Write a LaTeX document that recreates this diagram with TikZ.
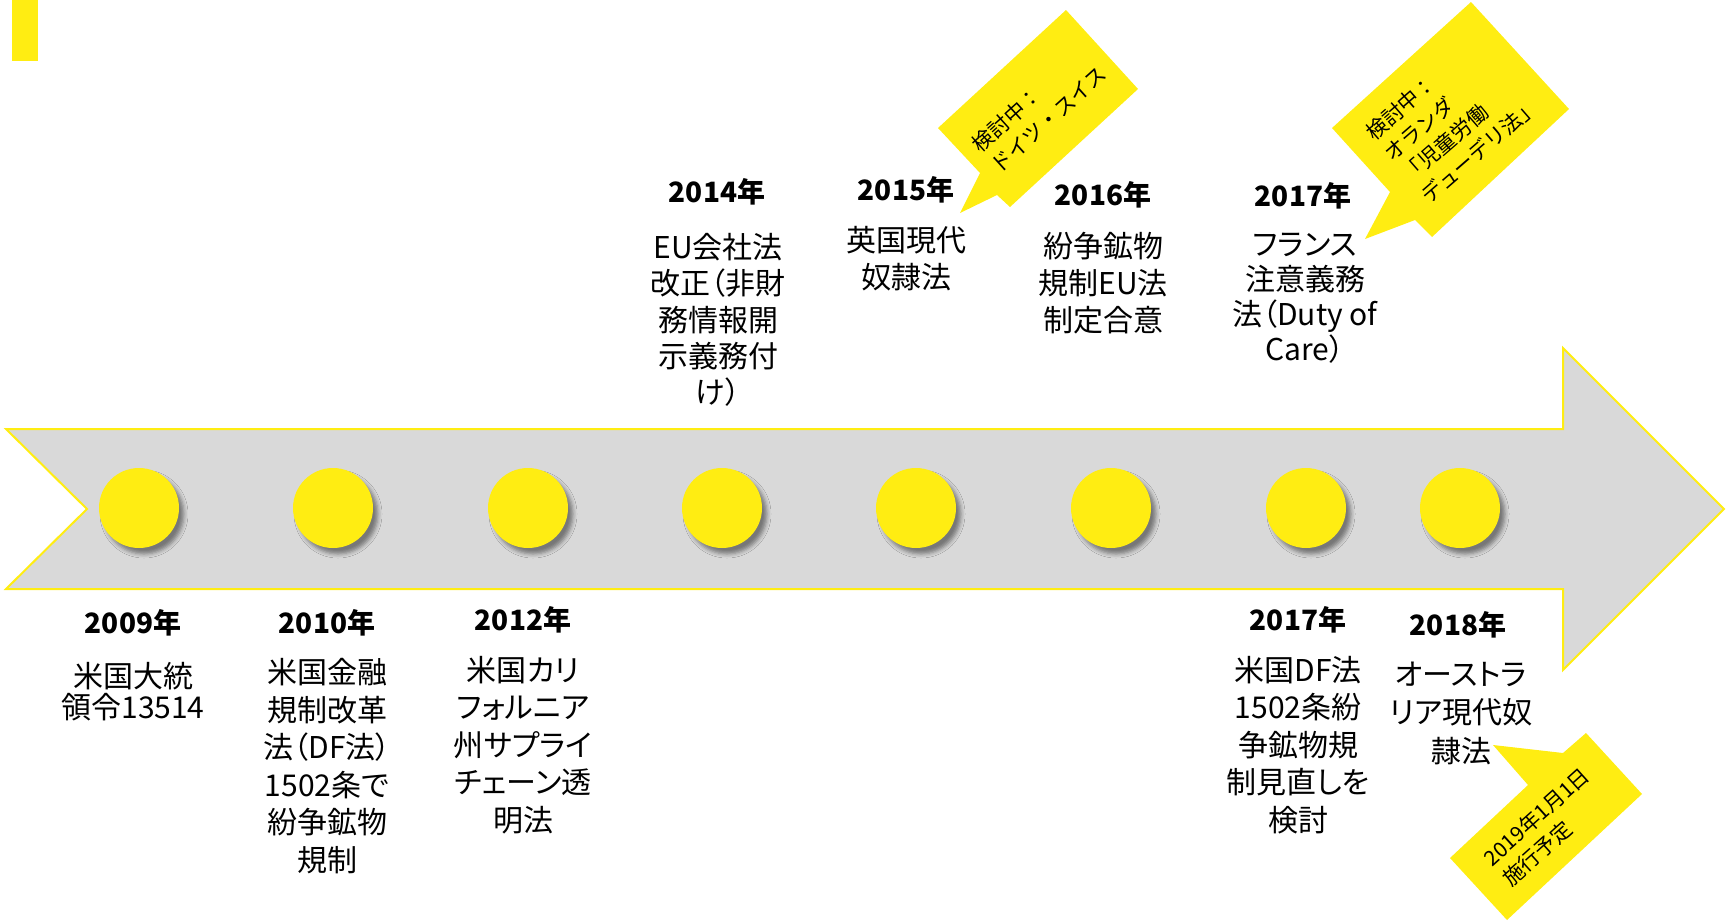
\documentclass[tikz,border=0pt]{standalone}
\usepackage{fontspec}
\setmainfont{Noto Sans CJK JP}[CharacterWidth=AlternateProportional]
\newfontfamily\cjkfull{Noto Sans CJK JP}
\usetikzlibrary{shadows.blur}
\definecolor{ylw}{RGB}{255,237,18}
\definecolor{band}{RGB}{217,217,217}
\tikzset{
  dot/.style={circle,fill=ylw,minimum size=80pt,inner sep=0pt,
    blur shadow={shadow xshift=5pt,shadow yshift=-6pt,shadow blur radius=4pt,shadow opacity=45}},
  yr/.style={font=\fontsize{28}{32}\selectfont\bfseries,inner sep=0pt},
  desc/.style={font=\fontsize{30}{#1}\selectfont,align=center,inner sep=0pt},
  desc/.default=37.5,
  callout/.style={fill=ylw,draw=none},
  ctext/.style={font=\cjkfull\fontsize{21}{28}\selectfont,align=left,inner sep=0pt}
}
\begin{document}
\begin{tikzpicture}[x=1pt,y=-1pt]
\useasboundingbox (0,0) rectangle (1729,921);
% top-left marker
\fill[ylw] (12,0) rectangle (38,61);
% timeline arrow
\draw[fill=band,draw=ylw,line width=2pt,line join=miter]
  (6,429) -- (1563,429) -- (1563,348) -- (1724,509) -- (1563,670)
  -- (1563,589) -- (6,589) -- (87,509) -- cycle;
% dots
\node[dot] (d1) at (139,508) {};
\node[dot] (d2) at (333,508) {};
\node[dot] (d3) at (528,508) {};
\node[dot] (d4) at (722,508) {};
\node[dot] (d5) at (916,508) {};
\node[dot] (d6) at (1111,508) {};
\node[dot] (d7) at (1306,508) {};
\node[dot] (d8) at (1460,508) {};
% bottom entries
\node[yr] (y2009) at (133,623) {2009年};
\node[desc=31] (t2009) at (133,692) {米国大統\\領令13514};
\node[yr] (y2010) at (327,623) {2010年};
\node[desc] (t2010) at (327,766) {米国金融\\規制改革\\法（DF法）\\1502条で\\紛争鉱物\\規制};
\node[yr] (y2012) at (523,620) {2012年};
\node[desc] (t2012) at (523,745) {米国カリ\\フォルニア\\州サプライ\\チェーン透\\明法};
\node[yr] (y2017b) at (1298,620) {2017年};
\node[desc] (t2017b) at (1298,745) {米国DF法\\1502条紛\\争鉱物規\\制見直しを\\検討};
\node[yr] (y2018) at (1458,625) {2018年};
\node[desc=38.5] (t2018) at (1461,713) {オーストラ\\リア現代奴\\隷法};
% top entries
\node[yr] (y2014) at (717,192) {2014年};
\node[desc=36.3] (t2014) at (718,320) {EU会社法\\改正（非財\\務情報開\\示義務付\\け）};
\node[yr] (y2015) at (906,190) {2015年};
\node[desc=37] (t2015) at (906,259) {英国現代\\奴隷法};
\node[yr] (y2016) at (1103,195) {2016年};
\node[desc=37] (t2016) at (1103,283) {紛争鉱物\\規制EU法\\制定合意};
\node[yr] (y2017) at (1303,196) {2017年};
\node[desc=35] (t2017) at (1305,298) {フランス\\注意義務\\法（Duty of\\Care）};
% callouts
\fill[callout] (938,128) -- (1066,10) -- (1138,89) -- (1010,207) -- (997,195)
  -- (960,213) -- (980,173) -- cycle;
\node[ctext,rotate=42] (c1) at (1039,109) {検討中：\\ドイツ・スイス};
\fill[callout] (1332,128) -- (1471,2) -- (1569,109) -- (1432,237) -- (1415,220)
  -- (1365,239) -- (1390,192) -- cycle;
\node[ctext,rotate=41] (c2) at (1452,119) {検討中：\\オランダ\\「児童労働\\デューデリ法」};
\fill[callout] (1450,858) -- (1528,785) -- (1493,745) -- (1563,753) -- (1586,733)
  -- (1642,794) -- (1507,920) -- cycle;
\node[ctext,rotate=42] (c3) at (1546,827) {2019年1月1日\\施行予定};
\end{tikzpicture}
\end{document}
